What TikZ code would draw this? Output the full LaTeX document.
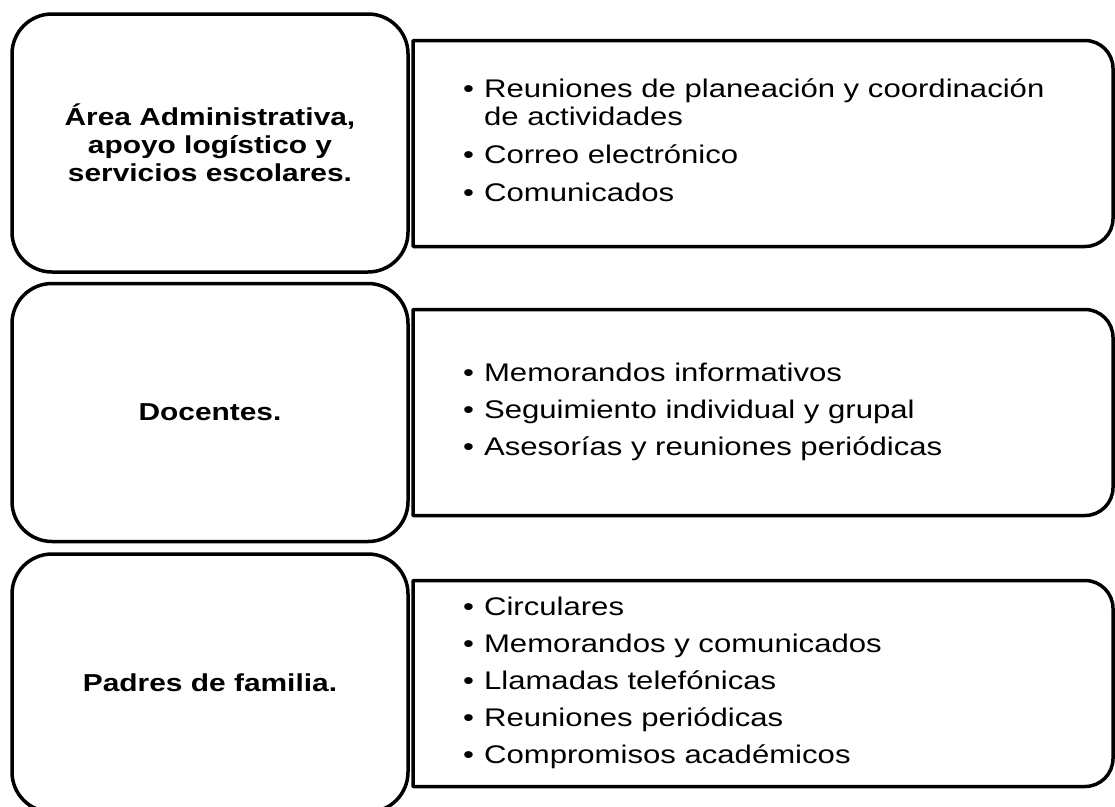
\documentclass[tikz,border=0pt]{standalone}
\usepackage{fontspec}
\setmainfont{Liberation Sans}[FakeStretch=1.22]
\begin{document}
\begin{tikzpicture}[x=1pt,y=1pt,
  grupo/.style={draw,line width=3.5pt,rounded corners=40pt,fill=white,
    minimum width=396pt,minimum height=258pt,align=center,
    font=\fontsize{24.5}{28}\selectfont\bfseries},
  caja/.style={inner sep=0pt,outer sep=0pt,minimum width=700pt,minimum height=206pt},
  marco/.style={line width=3.5pt,line join=round},
  lista/.style={anchor=west,inner sep=0pt,font=\fontsize{25.5}{28}\selectfont}]
  \useasboundingbox (0,0) rectangle (1115,-806);

  \node[caja] (c1) at (763,-143.5) {};
  \node[caja] (c2) at (763,-412.5) {};
  \node[caja] (c3) at (763,-683.5) {};

  \draw[marco] (c1.north west) -- ([xshift=-28pt]c1.north east)
    arc[start angle=90,end angle=0,radius=28pt] -- ([yshift=28pt]c1.south east)
    arc[start angle=0,end angle=-90,radius=28pt] -- (c1.south west) -- cycle;
  \draw[marco] (c2.north west) -- ([xshift=-28pt]c2.north east)
    arc[start angle=90,end angle=0,radius=28pt] -- ([yshift=28pt]c2.south east)
    arc[start angle=0,end angle=-90,radius=28pt] -- (c2.south west) -- cycle;
  \draw[marco] (c3.north west) -- ([xshift=-28pt]c3.north east)
    arc[start angle=90,end angle=0,radius=28pt] -- ([yshift=28pt]c3.south east)
    arc[start angle=0,end angle=-90,radius=28pt] -- (c3.south west) -- cycle;

  \node[grupo] (admin) at (210,-143) {Área Administrativa,\\apoyo logístico y\\servicios escolares.};
  \node[grupo] (docentes) at (210,-412.5) {Docentes.};
  \node[grupo] (padres) at (210,-683) {Padres de familia.};

  \node[lista] (l1) at (463,-143.5) {\begin{tabular}{@{}l@{\hspace{10pt}}l@{}}
    • & Reuniones de planeación y coordinación\\
      & de actividades\\[10pt]
    • & Correo electrónico\\[10pt]
    • & Comunicados
  \end{tabular}};
  \node[lista] (l2) at (463,-412.5) {\begin{tabular}{@{}l@{\hspace{10pt}}l@{}}
    • & Memorandos informativos\\[9pt]
    • & Seguimiento individual y grupal\\[9pt]
    • & Asesorías y reuniones periódicas
  \end{tabular}};
  \node[lista] (l3) at (463,-683.5) {\begin{tabular}{@{}l@{\hspace{10pt}}l@{}}
    • & Circulares\\[9pt]
    • & Memorandos y comunicados\\[9pt]
    • & Llamadas telefónicas\\[9pt]
    • & Reuniones periódicas\\[9pt]
    • & Compromisos académicos
  \end{tabular}};
\end{tikzpicture}
\end{document}
